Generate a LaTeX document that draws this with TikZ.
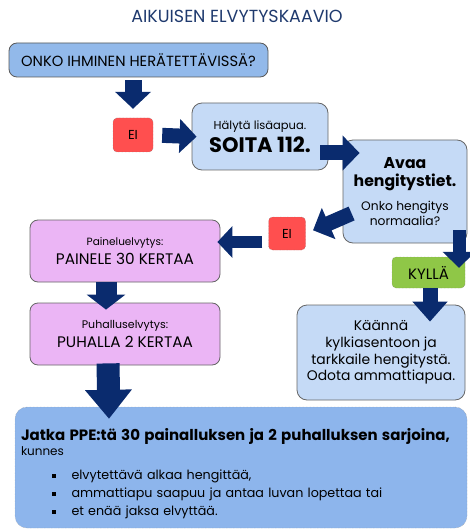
\documentclass[tikz,border=0pt]{standalone}
\usepackage{fontspec}
\setmainfont{Poppins}
\usetikzlibrary{positioning, arrows.meta, calc}
\definecolor{titleblue}{HTML}{1F3A6E}
\definecolor{arrowblue}{HTML}{0A2B6E}
\definecolor{midblue}{HTML}{92B9EA}
\definecolor{paleblue}{HTML}{C5DAF6}
\definecolor{deepblue}{HTML}{8DB5EC}
\definecolor{lilac}{HTML}{EBB5F5}
\definecolor{eired}{HTML}{FF4F4F}
\definecolor{kyllagreen}{HTML}{8FC747}
\newcommand{\fs}[2]{\fontsize{#1}{#2}\selectfont}
\newcommand{\bulletitem}[1]{\hspace*{33pt}\raisebox{1.5pt}{\rule{3.5pt}{3.5pt}}\hspace{16pt}#1}
\tikzset{
    %Define style for boxes
    bluebox/.style={
           rectangle,
           rounded corners=8pt,
           draw=black!65, thick,
           fill=midblue,
           align=center,
           inner sep=2pt},
 %
    palebox/.style={
           rectangle,
           rounded corners=10pt,
           draw=black!60, thick,
           fill=paleblue,
           align=center,
           inner sep=2pt},
 %
    lilacbox/.style={
           rectangle,
           rounded corners=8pt,
           draw=black!60, thick,
           fill=lilac,
           minimum width=190pt,
           minimum height=62pt,
           align=center,
           inner sep=2pt},
 %
    answerbox/.style={
           rectangle,
           rounded corners=4pt,
           draw=black!55, densely dotted,
           align=center,
           inner sep=1pt},
%
    % Define arrow style
    blockarrow/.style n args={3}{
           draw=arrowblue,
           line width=#1,
           -{Triangle[width=#2,length=#3]}}
}
\begin{document}
\begin{tikzpicture}[x=1pt,y=-1pt]
  \useasboundingbox (0,0) rectangle (469,529);

  \node[text=titleblue, font=\fs{17.5}{20}] (title) at (237,16) {AIKUISEN ELVYTYSKAAVIO};

  \node[bluebox, minimum width=259pt, minimum height=34pt, font=\fs{14.7}{17}] (herate) at (138.5,60)
    {ONKO IHMINEN HERÄTETTÄVISSÄ?};
  \node[answerbox, fill=eired, minimum width=40pt, minimum height=34pt, font=\fs{13}{15}] (ei1) at (133,135)
    {EI};
  \node[palebox, minimum width=136pt, minimum height=67pt, font=\fs{11.5}{23}] (soita) at (260,136.5)
    {Hälytä lisäapua.\\{\fs{21}{23}\bfseries SOITA 112.}};
  \node[palebox, minimum width=124pt, minimum height=103pt, font=\fs{12.3}{15}] (avaa) at (405,191.5)
    {{\fs{15.7}{15}\bfseries Avaa}\\[3pt]{\fs{15.7}{15}\bfseries hengitystiet.}\\[9pt]
     Onko hengitys\\normaalia?};
  \node[answerbox, fill=eired, minimum width=37pt, minimum height=33pt, font=\fs{13}{15}] (ei2) at (287,233.5)
    {EI};
  \node[answerbox, fill=kyllagreen, minimum width=73pt, minimum height=31pt, font=\fs{15}{17}] (kylla) at (428.5,272.5)
    {KYLLÄ};
  \node[lilacbox, font=\fs{10.5}{19}] (painelu) at (125,251)
    {Paineluelvytys:\\{\fs{15.3}{19}PAINELE 30 KERTAA}};
  \node[lilacbox, font=\fs{11}{19}] (puhallus) at (125,334)
    {Puhalluselvytys:\\{\fs{15.3}{19}PUHALLA 2 KERTAA}};
  \node[palebox, minimum width=168pt, minimum height=95pt, font=\fs{13.9}{16.7}] (kaanna) at (381,352.5)
    {Käännä\\kylkiasentoon ja\\tarkkaile hengitystä.\\Odota ammattiapua.};
  \node[rectangle, rounded corners=12pt, draw=black!45, densely dotted, fill=deepblue,
        minimum width=452pt, minimum height=121pt, text width=444pt, align=left,
        inner xsep=4pt, inner ysep=6pt, font=\fs{12.7}{18}] (jatka) at (241,467.5)
    {\rule{0pt}{24pt}\hspace*{2pt}\mbox{\fs{15}{18}\bfseries Jatka PPE:tä 30 painalluksen ja 2 puhalluksen sarjoina,}\\[-3pt]
     \hspace*{2pt}{\fs{12}{18}kunnes}\\[6pt]
     \bulletitem{elvytettävä alkaa hengittää,}\\
     \bulletitem{ammattiapu saapuu ja antaa luvan lopettaa tai}\\
     \bulletitem{et enää jaksa elvyttää.}};

  % block arrows
  \draw[blockarrow={17pt}{35pt}{17pt}, shorten <=3pt, shorten >=9pt]
    ([xshift=-5.5pt]herate.south) -- (ei1.north);
  \draw[blockarrow={15pt}{33pt}{17pt}, shorten <=9pt, shorten >=-5pt]
    (ei1.east) -- (soita.west);
  \draw[blockarrow={15pt}{34pt}{17pt}]
    ([shift={(-8,16.5)}]soita.east) -- ([shift={(17,-38.5)}]avaa.west);
  \draw[blockarrow={15pt}{33pt}{17pt}, shorten >=8pt]
    ([shift={(9,22)}]avaa.west) -- (ei2.east);
  \draw[blockarrow={12pt}{31pt}{15pt}, shorten <=6pt, shorten >=-3pt]
    ([shift={(0,8.5)}]ei2.west) -- ([shift={(0,-9)}]painelu.east);
  \draw[blockarrow={21pt}{38pt}{15pt}]
    ([shift={(-19,0)}]painelu.south) -- ([shift={(-19,7)}]puhallus.north);
  \draw[blockarrow={23pt}{45pt}{29pt}]
    ([shift={(-17,-2)}]puhallus.south) -- ([shift={(-132,12)}]jatka.north);
  \draw[blockarrow={13pt}{32pt}{16pt}]
    ([shift={(54,-13)}]avaa.south) -- ([shift={(30.5,11)}]kylla.north);
  \draw[blockarrow={15pt}{34pt}{20pt}, shorten <=0pt]
    ([xshift=1.5pt]kylla.south) -- ([shift={(49,17)}]kaanna.north);
\end{tikzpicture}
\end{document}
